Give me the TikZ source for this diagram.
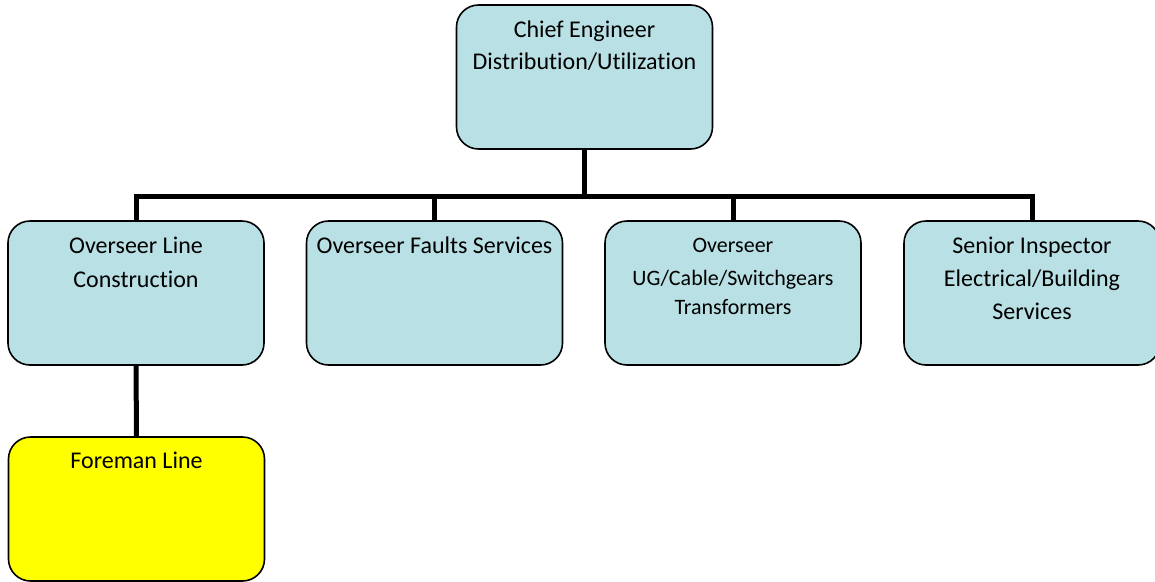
\documentclass[tikz,border=0pt]{standalone}
\usepackage{fontspec}
\setmainfont{Carlito}[RawFeature=-liga]
\definecolor{boxblue}{RGB}{185,224,228}
\definecolor{boxyellow}{RGB}{255,255,0}
\begin{document}
\begin{tikzpicture}[x=1pt,y=-1pt,
  box/.style={draw=black, line width=1.6pt, rounded corners=22pt, fill=boxblue,
    minimum width=256pt, minimum height=144pt, inner sep=0pt},
  ybox/.style={box, fill=boxyellow},
  conn/.style={line width=5pt, black},
  txt/.style={anchor=base, inner sep=0pt, font=\fontsize{24}{28}\selectfont},
  stxt/.style={anchor=base, inner sep=0pt, font=\fontsize{22}{26}\selectfont}]
\useasboundingbox (0,0) rectangle (1155,581);
% boxes
\node[box] (chief) at (584.5,77) {};
\node[box] (line) at (136,293) {};
\node[box] (faults) at (434.5,293) {};
\node[box] (ug) at (733,293) {};
\node[box] (senior) at (1032,293) {};
\node[ybox] (foreman) at (136.5,509) {};
\coordinate (busy) at (0,196);
% connectors
\draw[conn] (chief.south) -- (chief.south |- busy);
\draw[conn] (line.north) -- (line.north |- busy) -- (senior.north |- busy) -- (senior.north);
\draw[conn] (faults.north) -- (faults.north |- busy);
\draw[conn] (ug.north) -- (ug.north |- busy);
\draw[conn] (line.south) -- (foreman.north);
% texts
\node[txt] (chiefA) at (584.5,37) {Chief Engineer};
\node[txt] (chiefB) at (584.5,69) {Distribution/Utilization};
\node[txt] (lineA) at (136,253) {Overseer Line};
\node[txt] (lineB) at (136,287) {Construction};
\node[txt] (faultsA) at (434.5,253) {Overseer Faults Services};
\node[stxt] (ugA) at (733,252) {Overseer};
\node[stxt] (ugB) at (733,285) {UG/Cable/Switchgears};
\node[stxt] (ugC) at (733,314) {Transformers};
\node[txt] (seniorA) at (1032,253) {Senior Inspector};
\node[txt] (seniorB) at (1032,286) {Electrical/Building};
\node[txt] (seniorC) at (1032,319) {Services};
\node[txt] (foremanA) at (136.5,468) {Foreman Line};
\end{tikzpicture}
\end{document}
